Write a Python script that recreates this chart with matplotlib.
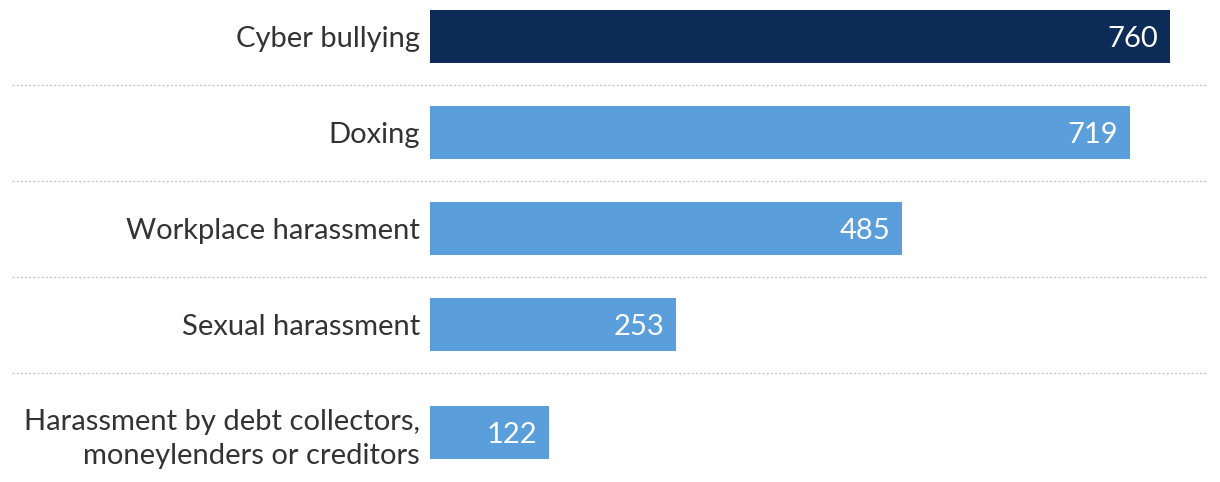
import matplotlib
matplotlib.use("Agg")
import matplotlib.pyplot as plt

# Data
categories = ["Cyber bullying", "Doxing", "Workplace harassment", "Sexual harassment",
              "Harassment by debt collectors,\nmoneylenders or creditors"]
values = [760, 719, 485, 253, 122]
highlight = [True, False, False, False, False]

DARK = "#0d2b57"
LIGHT = "#5a9edb"
TEXT = "#333333"

plt.rcParams["font.family"] = ["Lato", "DejaVu Sans"]

W, H = 1220, 482
fig = plt.figure(figsize=(W / 100, H / 100), dpi=100)
# axes spans x from pixel 430 (value 0) to 1170 (value 760); y in pixels, top down
ax = fig.add_axes([430 / W, 0, 740 / W, 1])
ax.set_xlim(0, 760)
ax.set_ylim(H, 0)
ax.axis("off")

bar_h = 53
gap = 43          # from one bar bottom to the next bar top
extra_line = 12   # extra room for each additional label line
top = 10
tops = []
for i, cat in enumerate(categories):
    if i > 0:
        top += gap + extra_line * cat.count("\n")
    tops.append(top)
    top += bar_h

centers = [t + bar_h / 2 for t in tops]
colors = [DARK if h else LIGHT for h in highlight]
ax.barh(centers, values, height=bar_h, color=colors, left=0)

for c, v, cat in zip(centers, values, categories):
    ax.text(v - 12 * 760 / 740, c, str(v), ha="right", va="center_baseline",
            color="white", fontsize=21)
    ax.text(-10 * 760 / 740, c, cat, ha="right", va="center_baseline",
            color=TEXT, fontsize=21, linespacing=1.4, multialignment="right")

# dotted separators between rows
for i in range(1, len(tops)):
    y = tops[i - 1] + bar_h + 22
    ax.axhline(y, xmin=(12 - 430) / 740, xmax=(1208 - 430) / 740, color="#c8c8c8",
               linewidth=1, linestyle=(0, (1.5, 1.5)), clip_on=False)

fig.savefig("out.png", dpi=100)
